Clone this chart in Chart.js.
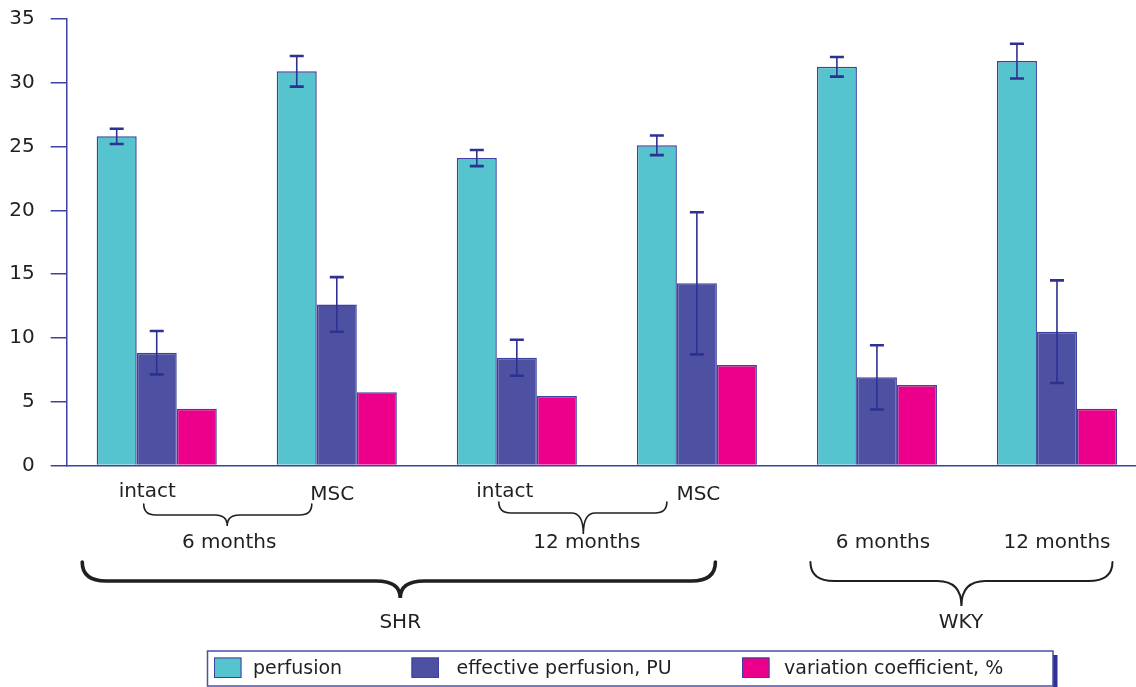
<!DOCTYPE html>
<html>
<head>
<meta charset="utf-8">
<script src="https://cdn.jsdelivr.net/npm/chart.js@4/dist/chart.umd.min.js"></script>
<style>
  html, body { margin: 0; padding: 0; background: #ffffff; overflow: hidden; }
  /* the plot area runs a few pixels past the right edge of the page */
  #wrap { width: 1136px; height: 687px; overflow: hidden; }
  #c { display: block; }
</style>
</head>
<body>
<div id="wrap"><canvas id="c" width="1147" height="687"></canvas></div>
<script>
// Groups: SHR 6 mo intact, SHR 6 mo MSC, SHR 12 mo intact, SHR 12 mo MSC, WKY 6 mo, WKY 12 mo
const categories = ['SHR 6 months intact', 'SHR 6 months MSC', 'SHR 12 months intact',
                    'SHR 12 months MSC', 'WKY 6 months', 'WKY 12 months'];
const perfusion = [25.8, 30.9, 24.1, 25.1, 31.25, 31.7];
const perfusionErr = [0.6, 1.2, 0.63, 0.77, 0.77, 1.36];
const effectivePerfusion = [8.84, 12.63, 8.45, 14.28, 6.91, 10.49];
const effectivePerfusionErr = [1.7, 2.14, 1.41, 5.57, 2.52, 4.02];
const variationCoef = [4.45, 5.74, 5.45, 7.88, 6.31, 4.45];
const seriesNames = ['perfusion', 'effective perfusion, PU', 'variation coefficient, %'];
const yTicks = [0, 5, 10, 15, 20, 25, 30, 35];

// Labels under the axis
const treatmentLabels = ['intact', 'MSC', 'intact', 'MSC'];
const periodLabels = ['6 months', '12 months'];
const strainLabels = ['SHR', 'WKY'];

const FONT = '"DejaVu Sans", sans-serif';
const TEXT = '#231f20';
const AXIS = '#3d41a0';
const ERR = '#2e3192';

// error whiskers drawn on top of each bar
const errorBars = {
  id: 'errorBars',
  afterDatasetsDraw(chart) {
    const ctx = chart.ctx;
    const ys = chart.scales.y;
    chart.data.datasets.forEach((ds, di) => {
      if (!ds.errors) return;
      const meta = chart.getDatasetMeta(di);
      meta.data.forEach((bar, i) => {
        const v = ds.data[i], e = ds.errors[i];
        const yt = ys.getPixelForValue(v + e);
        const yb = ys.getPixelForValue(v - e);
        ctx.save();
        ctx.strokeStyle = ERR;
        ctx.lineWidth = 1.6;
        ctx.beginPath();
        ctx.moveTo(bar.x, yt);
        ctx.lineTo(bar.x, yb);
        ctx.stroke();
        ctx.lineWidth = 2.6;
        ctx.beginPath();
        ctx.moveTo(bar.x - 7, yt); ctx.lineTo(bar.x + 7, yt);
        ctx.moveTo(bar.x - 7, yb); ctx.lineTo(bar.x + 7, yb);
        ctx.stroke();
        ctx.restore();
      });
    });
  }
};

function brace(ctx, x1, x2, xm, yTop, yMid, yTip, r, lw) {
  ctx.save();
  ctx.strokeStyle = TEXT;
  ctx.lineWidth = lw;
  ctx.lineCap = 'round';
  ctx.beginPath();
  ctx.moveTo(x1, yTop);
  ctx.quadraticCurveTo(x1, yMid, x1 + r, yMid);
  ctx.lineTo(xm - r, yMid);
  ctx.quadraticCurveTo(xm, yMid, xm, yTip);
  ctx.quadraticCurveTo(xm, yMid, xm + r, yMid);
  ctx.lineTo(x2 - r, yMid);
  ctx.quadraticCurveTo(x2, yMid, x2, yTop);
  ctx.stroke();
  ctx.restore();
}

function text(ctx, s, x, y) {
  ctx.save();
  ctx.fillStyle = TEXT;
  ctx.font = '20px ' + FONT;
  ctx.textAlign = 'center';
  ctx.textBaseline = 'alphabetic';
  ctx.fillText(s, x, y);
  ctx.restore();
}

// group annotations, braces and the boxed legend
const annotations = {
  id: 'annotations',
  afterDraw(chart) {
    const ctx = chart.ctx;
    const xs = chart.scales.x;
    const c = i => xs.getPixelForValue(i);

    // treatment row
    text(ctx, treatmentLabels[0], c(0) - 9.5, 496.5);
    text(ctx, treatmentLabels[1], c(1) - 4.5, 500);
    text(ctx, treatmentLabels[2], c(2) - 12, 496.5);
    text(ctx, treatmentLabels[3], c(3) + 1.5, 500);

    // small braces joining intact / MSC
    brace(ctx, c(0) - 13, c(1) - 25, c(0) + 70.5, 504, 515, 526, 12, 1.6);
    brace(ctx, c(2) - 18, c(3) - 30, c(2) + 66.5, 502, 513, 534, 12, 1.6);

    // period row
    text(ctx, periodLabels[0], c(0) + 72.5, 548);
    text(ctx, periodLabels[1], c(2) + 70, 548);
    text(ctx, periodLabels[0], c(4) + 6, 548);
    text(ctx, periodLabels[1], c(5) + 0, 548);

    // strain braces
    brace(ctx, c(0) - 74.5, c(3) + 18.5, c(0) + 243.5, 562, 581, 598, 24, 3.6);
    brace(ctx, c(4) - 66.5, c(5) + 55.5, c(4) + 84.5, 562, 581, 606, 24, 2);

    text(ctx, strainLabels[0], c(0) + 243.5, 628);
    text(ctx, strainLabels[1], c(4) + 84, 628);

    // legend box
    ctx.save();
    ctx.fillStyle = ERR;
    ctx.fillRect(1053, 655, 4.5, 32);
    ctx.strokeStyle = '#4a4fa8';
    ctx.lineWidth = 1.5;
    ctx.strokeRect(207.5, 651, 845.5, 35);
    const sx = [214, 411.5, 742];
    const tx = [253, 456.5, 784];
    chart.data.datasets.forEach((ds, i) => {
      ctx.fillStyle = ds.backgroundColor;
      ctx.fillRect(sx[i], 657.5, 27.5, 20.5);
      ctx.strokeStyle = AXIS;
      ctx.lineWidth = 1;
      ctx.strokeRect(sx[i] + 0.5, 658, 26.5, 19.5);
      ctx.fillStyle = TEXT;
      ctx.font = '19px ' + FONT;
      ctx.textAlign = 'left';
      ctx.textBaseline = 'alphabetic';
      ctx.fillText(ds.label, tx[i], 673.5);
    });
    ctx.restore();
  }
};

new Chart(document.getElementById('c'), {
  type: 'bar',
  data: {
    labels: categories,
    datasets: [
      { label: seriesNames[0], data: perfusion, errors: perfusionErr,
        backgroundColor: '#55c4cf', borderColor: AXIS, borderWidth: 1.5 },
      { label: seriesNames[1], data: effectivePerfusion, errors: effectivePerfusionErr,
        backgroundColor: '#4e51a2', borderColor: AXIS, borderWidth: 1.5 },
      { label: seriesNames[2], data: variationCoef,
        backgroundColor: '#ec008b', borderColor: AXIS, borderWidth: 1.5 }
    ]
  },
  options: {
    responsive: false,
    animation: false,
    events: [],
    layout: { padding: { top: 19, left: 9.3, right: 0, bottom: 221.5 } },
    datasets: { bar: { categoryPercentage: 0.667, barPercentage: 1.0, borderSkipped: 'start' } },
    plugins: { legend: { display: false }, tooltip: { enabled: false } },
    scales: {
      x: {
        offset: true,
        grid: { display: false },
        ticks: { display: false },
        border: { display: true, color: AXIS, width: 1.5 },
        afterFit(scale) {
          scale.height = 0;
          scale.paddingLeft = 0;
          scale.paddingRight = 0;
        }
      },
      y: {
        min: 0, max: 35,
        afterBuildTicks(scale) { scale.ticks = yTicks.map(v => ({ value: v })); },
        ticks: { padding: 16, color: TEXT, font: { family: FONT, size: 20 } },
        grid: { drawOnChartArea: false, drawTicks: true, tickLength: 16, color: AXIS, lineWidth: 1.5 },
        border: { display: true, color: AXIS, width: 1.5 },
        afterFit(scale) {
          scale.width = 57.4;
          scale.paddingTop = 12;
          scale.paddingBottom = 12;
        }
      }
    }
  },
  plugins: [errorBars, annotations]
});
</script>
</body>
</html>
